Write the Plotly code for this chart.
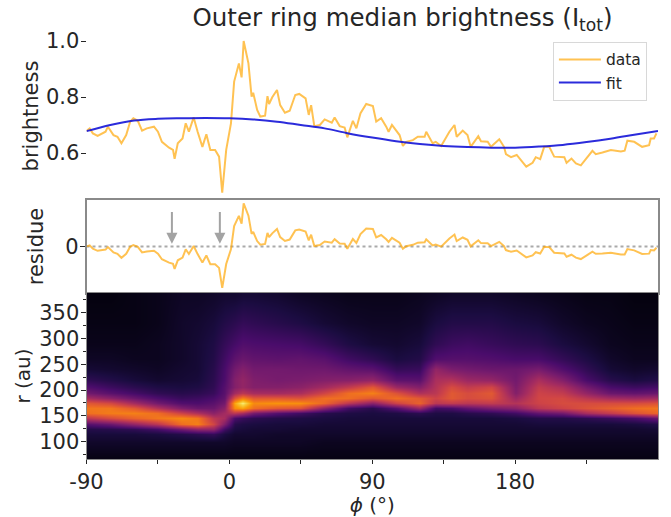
import plotly.graph_objects as go
import numpy as np

phi = [-90,-88,-86,-83,-78,-76.5,-73,-70.5,-68,-65,-62.5,-60.5,-57.7,-55,-52,-47.5,-45,-42.5,-38,-35.5,-34.5,-32.5,-29.5,-27.5,-25.5,-22.5,-20,-17,-14.5,-12,-9,-6.5,-4.5,-2,1,3,6,7.7,9,12,14,15,17.5,19.5,22.5,24,25,27,30,32,35,38,41.5,44,48,50,51.5,53.5,57,60,64.5,66.3,69.5,72.6,74.3,77.8,80,82.6,86.2,90.4,92.5,95.6,98.8,100.3,102.4,107.2,109.3,111.4,115.6,118.7,123,124,128,130,133.4,138.6,141.8,143.2,147,150,152,156.8,158.5,162.7,164.8,170,173,174.2,177.4,181,187,191,193,195.8,198.3,201.5,204.6,211,212.4,215.5,218.3,221.4,228.7,230.8,235,240.3,246.6,249,250.7,255,260,264.4,265.4,267.5,269]
brightness = [.679,.688,.670,.661,.676,.694,.664,.658,.635,.664,.712,.724,.715,.680,.688,.694,.676,.640,.619,.611,.579,.635,.652,.706,.676,.727,.676,.622,.667,.611,.611,.587,.458,.611,.706,.855,.920,.870,1.0,.920,.801,.815,.754,.730,.733,.803,.775,.799,.825,.771,.744,.751,.807,.811,.795,.736,.771,.696,.700,.720,.708,.727,.696,.691,.656,.715,.688,.742,.775,.768,.712,.724,.694,.676,.700,.664,.625,.640,.646,.658,.658,.676,.635,.640,.625,.676,.700,.658,.680,.664,.622,.660,.642,.640,.622,.649,.622,.596,.585,.593,.551,.565,.585,.578,.622,.622,.587,.585,.565,.580,.563,.556,.608,.596,.602,.611,.605,.608,.644,.640,.622,.628,.652,.652,.670]
residue = [.001,.007,-.014,-.028,-.020,-.004,-.038,-.047,-.073,-.047,-.001,.009,-.002,-.038,-.032,-.027,-.046,-.082,-.104,-.112,-.144,-.089,-.072,-.018,-.048,.003,-.049,-.103,-.058,-.114,-.114,-.138,-.267,-.113,-.018,.132,.198,.148,.278,.199,.081,.095,.035,.012,.017,.088,.060,.085,.113,.061,.036,.045,.104,.110,.097,.040,.076,.003,.010,.032,.025,.047,.019,.018,-.015,.048,.023,.080,.116,.113,.059,.074,.047,.030,.056,.024,-.014,.002,.011,.025,.027,.046,.007,.013,-.001,.052,.077,.035,.058,.043,.001,.040,.022,.021,.003,.030,.003,-.023,-.034,-.026,-.070,-.057,-.037,-.045,-.002,-.004,-.040,-.045,-.066,-.053,-.072,-.081,-.034,-.047,-.045,-.040,-.052,-.051,-.017,-.025,-.048,-.046,-.023,-.025,-.008]

fit_phi = [-90,-75,-60,-45,-30,-15,0,15,30,45,60,75,90,105,120,135,150,165,180,195,210,225,240,255,270]
fit = [.678,.700,.716,.722,.724,.725,.724,.720,.712,.700,.688,.670,.655,.642,.632,.625,.621,.619,.619,.623,.629,.639,.651,.665,.679]

arrow_phi = [-36.2,-6]

map_r = [70,100,115,125,135,145,155,165,175,185,195,205,220,240,260,290,330,385]
map_phi = [-90,-75,-60,-45,-30,-20,-10,-3,3,8,15,30,45,60,75,90,105,120,130,140,150,165,180,195,210,225,240,255,270]
map_columns = [
[.03,.07,.10,.13,.25,.50,.68,.70,.62,.45,.32,.24,.16,.09,.06,.04,.03,.02],
[.03,.07,.10,.14,.30,.58,.71,.70,.57,.38,.26,.19,.13,.08,.06,.04,.03,.02],
[.03,.07,.10,.16,.40,.65,.72,.62,.44,.30,.21,.15,.10,.07,.05,.04,.03,.03],
[.03,.07,.11,.21,.50,.70,.68,.48,.32,.23,.16,.12,.08,.06,.05,.05,.04,.04],
[.03,.07,.13,.32,.68,.74,.55,.35,.24,.18,.14,.11,.09,.08,.07,.07,.07,.06],
[.03,.07,.15,.40,.72,.70,.47,.30,.23,.19,.15,.12,.10,.09,.09,.09,.08,.06],
[.03,.07,.17,.40,.56,.50,.38,.30,.26,.22,.18,.16,.15,.14,.13,.12,.10,.07],
[.03,.07,.11,.20,.35,.45,.44,.38,.32,.28,.26,.25,.23,.22,.20,.17,.13,.08],
[.03,.06,.08,.11,.14,.22,.50,.75,.80,.60,.44,.36,.36,.32,.27,.21,.15,.08],
[.03,.06,.08,.10,.12,.18,.45,.80,.95,.72,.50,.40,.40,.36,.30,.24,.17,.09],
[.03,.06,.08,.09,.11,.15,.33,.68,.74,.62,.45,.36,.35,.32,.28,.23,.16,.09],
[.03,.06,.07,.09,.10,.13,.25,.62,.76,.62,.44,.36,.33,.32,.27,.22,.14,.08],
[.03,.06,.07,.08,.10,.12,.20,.60,.75,.60,.46,.38,.34,.31,.28,.21,.12,.06],
[.03,.05,.07,.08,.09,.11,.14,.38,.66,.68,.56,.44,.36,.31,.26,.17,.09,.05],
[.03,.05,.07,.08,.09,.10,.12,.20,.50,.68,.68,.52,.37,.28,.20,.12,.07,.04],
[.03,.05,.07,.08,.09,.10,.11,.14,.38,.62,.72,.62,.40,.26,.16,.09,.06,.04],
[.03,.05,.07,.08,.09,.10,.12,.25,.55,.68,.60,.42,.27,.17,.11,.08,.06,.04],
[.03,.05,.07,.08,.09,.10,.15,.42,.65,.62,.47,.36,.26,.18,.13,.10,.07,.05],
[.03,.05,.07,.08,.09,.10,.12,.20,.50,.55,.50,.48,.46,.40,.24,.16,.11,.06],
[.03,.05,.07,.08,.09,.10,.12,.22,.52,.62,.62,.58,.48,.34,.25,.19,.13,.07],
[.03,.05,.07,.08,.09,.10,.14,.28,.50,.58,.58,.52,.42,.32,.25,.20,.13,.07],
[.03,.05,.07,.08,.09,.10,.16,.34,.52,.60,.62,.56,.40,.30,.24,.18,.13,.07],
[.03,.05,.07,.08,.09,.11,.20,.38,.48,.42,.36,.34,.32,.30,.22,.16,.11,.06],
[.03,.05,.07,.08,.10,.13,.28,.50,.55,.56,.55,.52,.46,.33,.22,.15,.10,.05],
[.03,.05,.07,.08,.10,.13,.32,.55,.58,.57,.52,.46,.36,.24,.17,.11,.07,.04],
[.03,.05,.07,.08,.10,.15,.45,.60,.58,.50,.40,.32,.22,.16,.12,.08,.05,.03],
[.03,.05,.07,.08,.10,.18,.52,.64,.58,.44,.30,.22,.14,.09,.07,.05,.04,.03],
[.03,.05,.07,.08,.11,.22,.60,.68,.58,.42,.28,.19,.11,.07,.05,.04,.03,.02],
[.03,.05,.07,.09,.13,.30,.66,.70,.60,.44,.30,.21,.13,.08,.05,.04,.03,.02],
]

W, H = 671, 517
FONT = "DejaVu Sans"
INK = "#262626"
FRAME = "#8a8a8a"
ORANGE = "rgba(255,165,0,0.68)"
BLUE = "rgba(20,20,215,0.9)"
def dom(top, bottom):
    return [1 - bottom / H, 1 - top / H]
XDOM = [86.5 / W, 658 / W]

fig = go.Figure()
fig.add_trace(go.Scatter(x=phi, y=brightness, mode="lines", name="data",
                         line=dict(color=ORANGE, width=2), xaxis="x", yaxis="y"))
fig.add_trace(go.Scatter(x=fit_phi, y=fit, mode="lines", name="fit",
                         line=dict(color=BLUE, width=2, shape="spline"), xaxis="x", yaxis="y"))
fig.add_trace(go.Scatter(x=phi, y=residue, mode="lines", showlegend=False,
                         line=dict(color=ORANGE, width=2), xaxis="x2", yaxis="y2"))
fig.add_trace(go.Heatmap(x=map_phi, y=map_r, z=np.array(map_columns).T.tolist(),
                         colorscale="Inferno", zmin=0, zmax=1, zsmooth="best",
                         showscale=False, xaxis="x3", yaxis="y3"))

fig.add_shape(type="line", xref="x2 domain", yref="y2", x0=0, x1=1, y0=0, y1=0,
              line=dict(color="#aaaaaa", width=2, dash="dot"), layer="below")
for a in arrow_phi:
    fig.add_annotation(x=a, y=.017, ax=a, ay=.232, xref="x2", yref="y2", axref="x2", ayref="y2",
                       text="", showarrow=True, arrowhead=2, arrowsize=1.1, arrowwidth=2,
                       arrowcolor="#a3a3a3")

tick = dict(family=FONT, size=21, color=INK)
lab = dict(family=FONT, size=21, color=INK)
fig.update_layout(
    width=W, height=H, autosize=False, margin=dict(l=0, r=0, t=0, b=0),
    paper_bgcolor="white", plot_bgcolor="white", font=dict(family=FONT, color=INK),
    title=dict(text="Outer ring median brightness (I<sub>tot</sub>)", x=0.600, xanchor="center",
               y=0.966, yanchor="middle", font=dict(family=FONT, size=24.5, color=INK)),
    legend=dict(x=0.824, y=0.919, xanchor="left", yanchor="top", bgcolor="rgba(255,255,255,0.8)",
                bordercolor="#d8d8d8", borderwidth=1, itemwidth=42,
                font=dict(family=FONT, size=15.5, color=INK)),
    xaxis=dict(domain=XDOM, range=[-90, 270], visible=False, automargin=False),
    yaxis=dict(domain=dom(35, 197), range=[1.0 - 156 / 280, 1.0 + 6 / 280], anchor="x", automargin=False,
               tickvals=[.6, .8, 1.0], ticktext=["0.6", "0.8", "1.0"], ticks="outside", ticklen=5,
               ticklabelstandoff=-3, tickcolor=INK, tickfont=tick, showgrid=False, zeroline=False, showline=False,
               title=dict(text="brightness", font=lab, standoff=1)),
    xaxis2=dict(domain=XDOM, range=[-90, 270], anchor="y2", showticklabels=False, ticks="", automargin=False,
                showgrid=False, zeroline=False, showline=True, mirror=True, linecolor=FRAME, linewidth=1.5),
    yaxis2=dict(domain=dom(200, 293), range=[-.3, .3], anchor="x2", tickvals=[0], ticktext=["0"], automargin=False,
                ticks="outside", ticklen=5, ticklabelstandoff=-3, tickcolor=INK, tickfont=tick, showgrid=False,
                zeroline=False, showline=True, mirror=True, linecolor=FRAME, linewidth=1.5,
                title=dict(text="residue", font=lab, standoff=16)),
    xaxis3=dict(domain=XDOM, range=[-90, 270], anchor="y3", tickvals=[-90, -45, 0, 45, 90, 135, 180, 225], automargin=False,
                ticktext=["-90", "", "0", "", "90", "", "180", ""], ticks="outside", ticklen=4,
                tickcolor=INK, tickfont=tick, showgrid=False, zeroline=False, showline=True, mirror=True,
                linecolor=FRAME, linewidth=1,
                title=dict(text="<i>ϕ</i> (°)", font=dict(family=FONT, size=20, color=INK), standoff=2)),
    yaxis3=dict(domain=dom(293, 459), range=[66.5, 388], anchor="x3", tickvals=[100, 150, 200, 250, 300, 350], automargin=False,
                ticks="outside", ticklen=5, ticklabelstandoff=-3, tickcolor=INK, tickfont=tick, showgrid=False,
                zeroline=False, showline=True, mirror=True, linecolor=FRAME, linewidth=1,
                minor=dict(tick0=0, dtick=25, ticks="outside", ticklen=3, tickcolor=INK),
                title=dict(text="r (au)", font=dict(family=FONT, size=20, color=INK), standoff=3)),
)
fig.write_html("out.html", config={"displayModeBar": False},
               post_script="document.body.style.margin='0';document.documentElement.style.overflow='hidden';")
